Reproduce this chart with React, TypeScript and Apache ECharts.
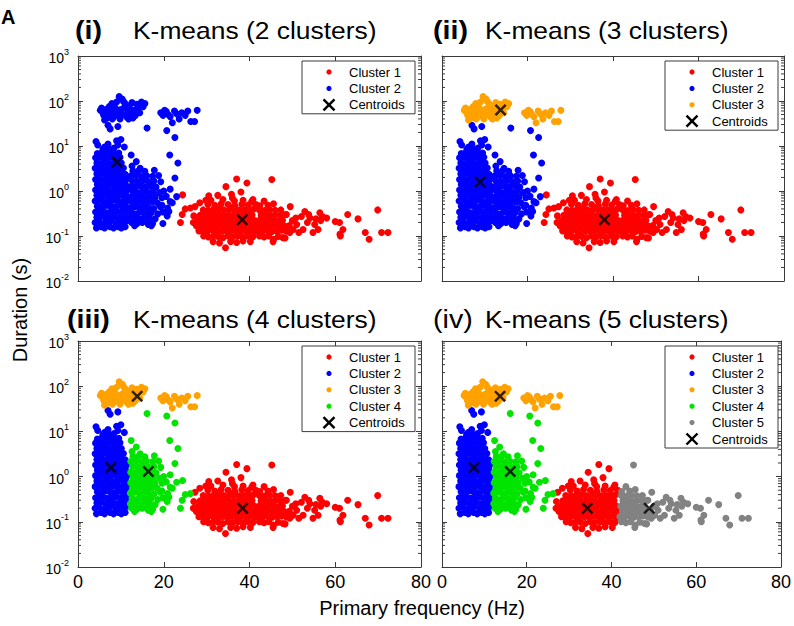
import React, { useEffect, useRef } from "react";
import * as echarts from "echarts";

const FONT = '"Liberation Sans", Arial, Helvetica, sans-serif';

// ---------- DATA ----------
// Five-cluster assignment (panel iv); the other panels merge these groups.
const ptsRed: number[][] = [
  [31.5,0.075],[33.0,0.07],[34.4,0.055],[35.6,0.075],[37.0,0.072],[38.5,0.078],[40.2,0.075],
  [29.3,0.1],[30.4,0.095],[31.6,0.1],[32.7,0.098],[33.8,0.092],[35.0,0.1],[36.1,0.096],[37.3,0.1],[38.4,0.094],[39.6,0.1],[40.8,0.097],
  [28.2,0.13],[29.2,0.125],[30.3,0.13],[31.4,0.135],[32.5,0.128],[33.6,0.13],[34.7,0.126],[35.8,0.133],[36.9,0.128],[38.0,0.13],[39.1,0.127],[40.2,0.133],[41.3,0.128],
  [27.6,0.17],[28.7,0.168],[29.8,0.172],[30.9,0.165],[32.0,0.17],[33.1,0.175],[34.2,0.168],[35.3,0.17],[36.4,0.172],[37.5,0.166],[38.6,0.17],[39.7,0.174],[40.8,0.167],[41.7,0.17],
  [28.0,0.22],[29.1,0.225],[30.2,0.218],[31.3,0.222],[32.4,0.226],[33.5,0.22],[34.6,0.215],[35.7,0.222],[36.8,0.227],[37.9,0.22],[39.0,0.218],[40.1,0.224],[41.2,0.22],
  [28.5,0.29],[29.6,0.285],[30.7,0.292],[31.8,0.29],[32.9,0.284],[34.0,0.295],[35.1,0.29],[36.2,0.286],[37.3,0.292],[38.4,0.288],[39.5,0.29],[40.6,0.294],
  [29.2,0.38],[30.4,0.37],[31.6,0.385],[32.8,0.375],[34.0,0.38],[35.2,0.372],[36.4,0.386],[37.6,0.378],[38.8,0.38],[40.0,0.37],
  [30.3,0.5],[31.9,0.48],[33.4,0.52],[35.0,0.5],[36.6,0.47],[38.2,0.51],[39.7,0.49],
  [31.0,0.62],[33.8,0.65],[36.0,0.7],[38.5,0.62],[40.5,0.58],[34.5,1.25],[37.0,1.85],[39.4,1.5],[35.8,0.85],[32.6,0.8],[38.0,0.95],[40.8,0.65],[41.5,0.5],[30.5,0.78],
  [27.3,0.45],[28.4,0.55],[27.0,0.28],[26.9,0.2],[29.8,0.62],[30.0,0.11],[41.0,0.4],[33.0,0.4],[36.5,0.6],
  [32.2,0.145],[35.4,0.145],[38.7,0.15],[30.8,0.25],[34.1,0.25],[37.4,0.255],[39.8,0.33],[31.2,0.33],[35.9,0.43],[29.0,0.15],
];
const ptsBlue: number[][] = [
  [4.3,0.15],[5.4,0.16],[6.2,0.15],[7.5,0.16],[8.3,0.15],[9.4,0.16],[10.1,0.15],[11.0,0.16],
  [4.0,0.2],[4.9,0.21],[6.0,0.19],[6.9,0.2],[7.8,0.22],[8.9,0.19],[9.8,0.21],[10.7,0.2],[11.5,0.22],
  [4.4,0.26],[5.3,0.27],[6.4,0.25],[7.3,0.27],[8.2,0.26],[9.3,0.25],[10.2,0.27],[11.2,0.26],
  [4.1,0.34],[5.0,0.36],[5.9,0.35],[6.8,0.33],[7.9,0.36],[8.8,0.35],[9.7,0.34],[10.6,0.36],[11.6,0.35],
  [4.5,0.46],[5.5,0.45],[6.4,0.48],[7.4,0.46],[8.4,0.44],[9.2,0.47],[10.3,0.46],[11.1,0.45],
  [4.0,0.6],[4.9,0.62],[5.9,0.58],[6.9,0.61],[7.8,0.6],[8.7,0.63],[9.7,0.58],[10.7,0.61],[11.5,0.6],
  [4.4,0.8],[5.4,0.78],[6.3,0.81],[7.3,0.79],[8.3,0.77],[9.3,0.8],[10.2,0.82],[11.2,0.79],
  [4.1,1.05],[5.0,1.02],[5.9,1.08],[6.8,1.05],[7.7,1.03],[8.8,1.06],[9.8,1.04],[10.7,1.07],[11.4,1.02],
  [4.5,1.4],[5.5,1.36],[6.4,1.38],[7.3,1.42],[8.3,1.37],[9.3,1.39],[10.3,1.35],[11.1,1.4],
  [4.1,1.8],[5.0,1.85],[5.9,1.78],[6.9,1.83],[7.9,1.8],[8.8,1.86],[9.7,1.79],[10.6,1.82],[11.4,1.84],
  [4.4,2.4],[5.4,2.45],[6.4,2.35],[7.4,2.42],[8.3,2.38],[9.2,2.44],[10.2,2.4],[11.0,2.36],
  [4.0,3.2],[5.0,3.15],[5.9,3.25],[6.9,3.18],[7.8,3.22],[8.8,3.2],[9.7,3.16],[10.6,3.24],
  [4.4,4.2],[5.4,4.1],[6.3,4.3],[7.3,4.2],[8.3,4.15],[9.2,4.25],[10.1,4.2],
  [4.1,5.5],[5.0,5.6],[6.0,5.4],[6.9,5.5],[7.9,5.7],[8.8,5.4],[9.8,5.6],
  [4.5,6.8],[5.6,7.2],[6.6,6.9],[7.6,7.1],[8.6,6.7],[9.5,7.0],
  [4.6,10.5],[4.2,12.6],[6.2,9.5],[7.0,11],[8.4,9],[9.0,13],[9.3,10.5],[10.0,14],[10.8,9.5],[5.8,8.5],[7.2,8.6],
  [7.0,29],[9.3,27],[7.5,24],
];
const ptsOrange: number[][] = [
  [5.2,62],[5.8,55],[6.0,48],[6.5,65],[6.8,42],[7.0,58],[7.3,75],[7.6,50],[7.9,88],[8.2,62],[8.4,45],[8.7,70],[9.0,95],[9.2,55],[9.6,125],
  [9.8,40],[10.0,65],[10.3,110],[10.5,50],[10.8,72],[11.0,88],[11.3,45],[11.6,60],[12.0,78],[12.3,52],[12.6,92],[13.0,62],[13.4,48],
  [13.7,85],[14.0,70],[14.4,55],[14.8,95],[15.2,75],[15.6,88],[6.2,38],[8.0,40],[9.4,48],[11.8,40],[5.5,70],[10.6,98],[12.8,42],
  [19.3,55],[19.8,48],[20.2,62],[20.6,58],[21.0,50],[21.5,45],[22.5,60],[23.0,52],[23.6,40],[24.2,55],[25.0,48],[25.6,60],
  [26.3,35],[27.2,35],[27.8,62],[22.0,33],
];
const ptsGreen: number[][] = [
  [12.5,0.2],[13.8,0.19],[15.0,0.2],[16.4,0.18],[17.4,0.19],[12.9,0.22],
  [12.2,0.25],[13.3,0.26],[14.4,0.24],[15.5,0.26],[16.7,0.25],[18.0,0.24],
  [12.6,0.33],[13.7,0.31],[14.8,0.34],[15.9,0.32],[17.1,0.33],[18.6,0.31],[19.8,0.34],
  [12.2,0.43],[13.2,0.45],[14.3,0.42],[15.4,0.44],[16.5,0.43],[17.7,0.41],[19.2,0.45],[20.9,0.42],
  [12.7,0.56],[13.8,0.55],[14.9,0.58],[16.0,0.56],[17.3,0.57],[18.5,0.55],[21.5,0.58],
  [12.3,0.73],[13.3,0.72],[14.4,0.75],[15.6,0.72],[16.8,0.74],[18.0,0.73],[19.6,0.71],[20.6,0.76],
  [12.8,0.95],[13.9,0.93],[15.1,0.97],[16.3,0.94],[17.5,0.96],[19.0,0.92],[20.0,1.0],
  [12.3,1.25],[13.4,1.22],[14.6,1.27],[15.8,1.24],[17.0,1.28],[18.2,1.22],
  [12.7,1.65],[13.9,1.62],[15.1,1.68],[16.4,1.63],[17.7,1.66],[19.3,1.6],
  [12.3,2.15],[13.5,2.2],[14.8,2.1],[16.0,2.18],[17.4,2.12],
  [12.8,2.8],[14.2,2.85],[15.6,2.75],[17.8,2.9],
  [12.6,3.6],[13.6,4.5],[12.4,6.3],[14.5,3.2],[16.1,25],[20.7,22],[22.6,15.4],[21.4,6.3],[23.3,4.2],[22.6,1.95],[21.5,1.1],
  [20.8,0.28],[22.0,0.55],[23.0,0.75],[19.8,0.19],[17.1,0.17],[18.8,2.2],[19.6,0.48],[21.2,0.35],[16.3,0.2],[13.2,0.17],
];
// green in panels iii/iv, red in panels i/ii
const ptsBoundary: number[][] = [[24.4,0.82],[25.0,0.4],[23.9,0.2],[26.2,0.42],[24.3,0.3]];
const ptsGray: number[][] = [
  [42.3,0.1],[43.4,0.095],[44.5,0.1],[45.6,0.085],[46.7,0.098],[47.8,0.092],
  [42.0,0.13],[43.1,0.128],[44.2,0.133],[45.3,0.126],[46.4,0.13],[47.5,0.135],[48.6,0.128],
  [42.6,0.17],[43.7,0.172],[44.8,0.166],[45.9,0.17],[47.0,0.174],[48.1,0.168],[49.3,0.17],
  [42.2,0.22],[43.3,0.218],[44.4,0.225],[45.5,0.22],[46.6,0.216],[47.7,0.224],[50.0,0.22],
  [42.7,0.29],[43.8,0.29],[44.9,0.285],[46.0,0.295],[47.2,0.29],[48.4,0.3],
  [42.3,0.38],[43.5,0.37],[44.7,0.385],[46.0,0.375],[47.3,0.38],
  [42.4,0.47],[44.3,0.48],[45.6,0.52],[43.4,0.6],[45.2,1.8],
  [48.3,0.09],[45.5,0.075],[49.4,0.12],[50.2,0.14],[51.0,0.18],[52.1,0.27],[52.5,0.14],[52.9,0.35],[54.1,0.25],[54.8,0.12],
  [56.0,0.14],[56.4,0.33],[57.0,0.27],[56.6,0.22],[48.6,0.3],[53.5,0.2],[55.2,0.18],[50.8,0.25],[51.5,0.12],[49.5,0.45],
  [53.8,0.3],[55.5,0.24],[58.0,0.25],
  [60.0,0.21],[61.0,0.2],[61.1,0.11],[61.2,0.1],[61.8,0.14],[62.9,0.3],[65.3,0.24],[67.0,0.12],[67.9,0.085],[69.9,0.38],[70.8,0.12],[72.3,0.12],
];

// centroids per panel, in cluster order
const centroids2 = [[38.3,0.23],[9.1,4.4]];
const centroids3 = [[38.0,0.23],[8.9,1.58],[13.7,63]];
const centroids4 = [[38.4,0.2],[7.7,1.58],[13.8,60],[16.4,1.3]];
const centroids5 = [[34.3,0.2],[7.5,1.58],[13.7,60],[16.1,1.3],[48.9,0.2]];

const clusterNames = ["Cluster 1", "Cluster 2", "Cluster 3", "Cluster 4", "Cluster 5"];
const clusterColors = ["#ff0000", "#0000ff", "#ffa200", "#00e400", "#828282"];
const panelTags = ["(i)", "(ii)", "(iii)", "(iv)"];
const panelTagBold = [true, true, true, false];
const panelTitles = ["K-means (2 clusters)", "K-means (3 clusters)", "K-means (4 clusters)", "K-means (5 clusters)"];
const xTicks = { min: 0, max: 80, interval: 20 };
const yLog = { min: 0.01, max: 1000 };
const xAxisName = "Primary frequency (Hz)";
const yAxisName = "Duration (s)";

const panelClusters: number[][][][] = [
  [[...ptsRed, ...ptsGray, ...ptsBoundary], [...ptsBlue, ...ptsOrange, ...ptsGreen]],
  [[...ptsRed, ...ptsGray, ...ptsBoundary], [...ptsBlue, ...ptsGreen], ptsOrange],
  [[...ptsRed, ...ptsGray], ptsBlue, ptsOrange, [...ptsGreen, ...ptsBoundary]],
  [ptsRed, ptsBlue, ptsOrange, [...ptsGreen, ...ptsBoundary], ptsGray],
];
const panelCentroids = [centroids2, centroids3, centroids4, centroids5];

// ---------- LAYOUT ----------
const GRIDS = [
  { left: 78, top: 56, width: 343, height: 225 },
  { left: 442, top: 56, width: 342, height: 225 },
  { left: 78, top: 341, width: 343, height: 226 },
  { left: 442, top: 341, width: 342, height: 226 },
];
const TAG_X = [75, 433, 67, 433];
const TITLE_X = [133, 485, 133, 485];
const FRAME = "#3a3a3a";
const XSYM = "path://M0,1.5L1.5,0L5,3.5L8.5,0L10,1.5L6.5,5L10,8.5L8.5,10L5,6.5L1.5,10L0,8.5L3.5,5Z";

const minorVals: number[] = [];
for (let e = -2; e < 3; e++) for (let m = 2; m <= 9; m++) minorVals.push(m * Math.pow(10, e));

function buildOption() {
  const xAxis: any[] = [];
  const yAxis: any[] = [];
  const series: any[] = [];
  const graphic: any[] = [];

  GRIDS.forEach((g, gi) => {
    const bottomRow = gi >= 2;
    const leftCol = gi % 2 === 0;
    const baseX = {
      gridIndex: gi, type: "value", min: xTicks.min, max: xTicks.max, interval: xTicks.interval,
      axisLine: { show: true, onZero: false, lineStyle: { color: FRAME, width: 1 } },
      axisTick: { show: true, inside: true, length: 5, lineStyle: { color: FRAME } },
      splitLine: { show: false },
    };
    xAxis.push({
      ...baseX, position: "bottom",
      axisLabel: { show: bottomRow, fontSize: 18, color: "#000", fontFamily: FONT, margin: 6 },
    });
    xAxis.push({ ...baseX, position: "top", axisLabel: { show: false } });
    const baseY = {
      gridIndex: gi, type: "log", logBase: 10, min: yLog.min, max: yLog.max, splitNumber: 5,
      axisLine: { show: true, onZero: false, lineStyle: { color: FRAME, width: 1 } },
      axisTick: { show: true, inside: true, length: 5, lineStyle: { color: FRAME } },
      splitLine: { show: false },
    };
    yAxis.push({
      ...baseY, position: "left",
      axisLabel: {
        show: leftCol, margin: 9, color: "#000",
        formatter: (v: number) => "{b|10}{s|" + Math.round(Math.log10(v)) + "}",
        rich: {
          b: { fontSize: 14, fontFamily: FONT, color: "#000", lineHeight: 18, verticalAlign: "bottom" },
          s: { fontSize: 9, fontFamily: FONT, color: "#000", lineHeight: 18, verticalAlign: "top" },
        },
      },
    });
    yAxis.push({ ...baseY, position: "right", axisLabel: { show: false } });

    const xi = gi * 2, yi = gi * 2;
    // minor log ticks
    series.push({
      type: "custom", xAxisIndex: xi, yAxisIndex: yi, silent: true, clip: false, z: 1,
      data: minorVals.map((v) => [xTicks.min, v]),
      renderItem: (_p: any, api: any) => {
        const y = api.value(1);
        const pl = api.coord([xTicks.min, y]);
        const pr = api.coord([xTicks.max, y]);
        return {
          type: "group",
          children: [
            { type: "line", shape: { x1: pl[0], y1: pl[1], x2: pl[0] + 3, y2: pl[1] }, style: { stroke: FRAME, lineWidth: 1 } },
            { type: "line", shape: { x1: pr[0] - 3, y1: pr[1], x2: pr[0], y2: pr[1] }, style: { stroke: FRAME, lineWidth: 1 } },
          ],
        };
      },
    });

    const clusters = panelClusters[gi];
    clusters.forEach((pts, ci) => {
      series.push({
        type: "scatter", name: clusterNames[ci], xAxisIndex: xi, yAxisIndex: yi,
        data: pts, symbol: "circle", symbolSize: 7,
        itemStyle: { color: clusterColors[ci], opacity: 1 }, z: 2,
      });
    });
    series.push({
      type: "scatter", name: "Centroids", xAxisIndex: xi, yAxisIndex: yi,
      data: panelCentroids[gi], symbol: XSYM, symbolSize: 12,
      itemStyle: { color: "#000" }, z: 5,
    });

    // titles (the reference type is a little wider than Liberation Sans)
    const titleY = gi < 2 ? 30 : 319;
    graphic.push({
      type: "text", x: TAG_X[gi], y: titleY, scaleX: 1.1,
      style: { text: panelTags[gi], font: `${panelTagBold[gi] ? "bold " : ""}26px ${FONT}`, fill: "#000", verticalAlign: "middle", align: "left" },
    });
    graphic.push({
      type: "text", x: TITLE_X[gi], y: titleY, scaleX: 1.1,
      style: { text: panelTitles[gi], font: `24px ${FONT}`, fill: "#000", verticalAlign: "middle", align: "left" },
    });

    // legend box
    const n = clusters.length + 1;
    const bx = g.left + g.width - 6 - 113;
    const by = g.top + 5;
    const bh = 11 + (n - 1) * 16.4 + 9;
    graphic.push({ type: "rect", shape: { x: bx, y: by, width: 113, height: bh }, style: { fill: "#fff", stroke: FRAME, lineWidth: 1 }, z: 10 });
    for (let k = 0; k < n; k++) {
      const cy = by + 11 + k * 16.4;
      const isC = k === n - 1;
      if (isC) {
        graphic.push({ type: "line", shape: { x1: bx + 21.5, y1: cy - 5.5, x2: bx + 32.5, y2: cy + 5.5 }, style: { stroke: "#000", lineWidth: 2.4 }, z: 11 });
        graphic.push({ type: "line", shape: { x1: bx + 21.5, y1: cy + 5.5, x2: bx + 32.5, y2: cy - 5.5 }, style: { stroke: "#000", lineWidth: 2.4 }, z: 11 });
      } else {
        graphic.push({ type: "circle", shape: { cx: bx + 27, cy, r: 2.6 }, style: { fill: clusterColors[k] }, z: 11 });
      }
      graphic.push({
        type: "text", x: bx + 47, y: cy, z: 11,
        style: { text: isC ? "Centroids" : clusterNames[k], font: `13px ${FONT}`, fill: "#000", verticalAlign: "middle", align: "left" },
      });
    }
  });

  // axis names and corner letter
  graphic.push({ type: "text", x: 422, y: 608, style: { text: xAxisName, font: `20px ${FONT}`, fill: "#000", align: "center", verticalAlign: "middle" } });
  graphic.push({ type: "text", x: 20, y: 310, rotation: Math.PI / 2, style: { text: yAxisName, font: `20px ${FONT}`, fill: "#000", align: "center", verticalAlign: "middle" } });
  graphic.push({ type: "text", x: 1, y: 17, style: { text: "A", font: `bold 20px ${FONT}`, fill: "#000", align: "left", verticalAlign: "middle" } });

  return {
    animation: false,
    backgroundColor: "#fff",
    grid: GRIDS.map((g) => ({ ...g, containLabel: false })),
    xAxis, yAxis, series, graphic,
  };
}

export default function App() {
  const ref = useRef<HTMLDivElement>(null);
  useEffect(() => {
    document.body.style.margin = "0";
    const chart = echarts.init(ref.current!, null, { renderer: "svg" });
    chart.setOption(buildOption() as any);
    return () => chart.dispose();
  }, []);
  return <div ref={ref} style={{ position: "fixed", left: 0, top: 0, width: 794, height: 626 }} />;
}
